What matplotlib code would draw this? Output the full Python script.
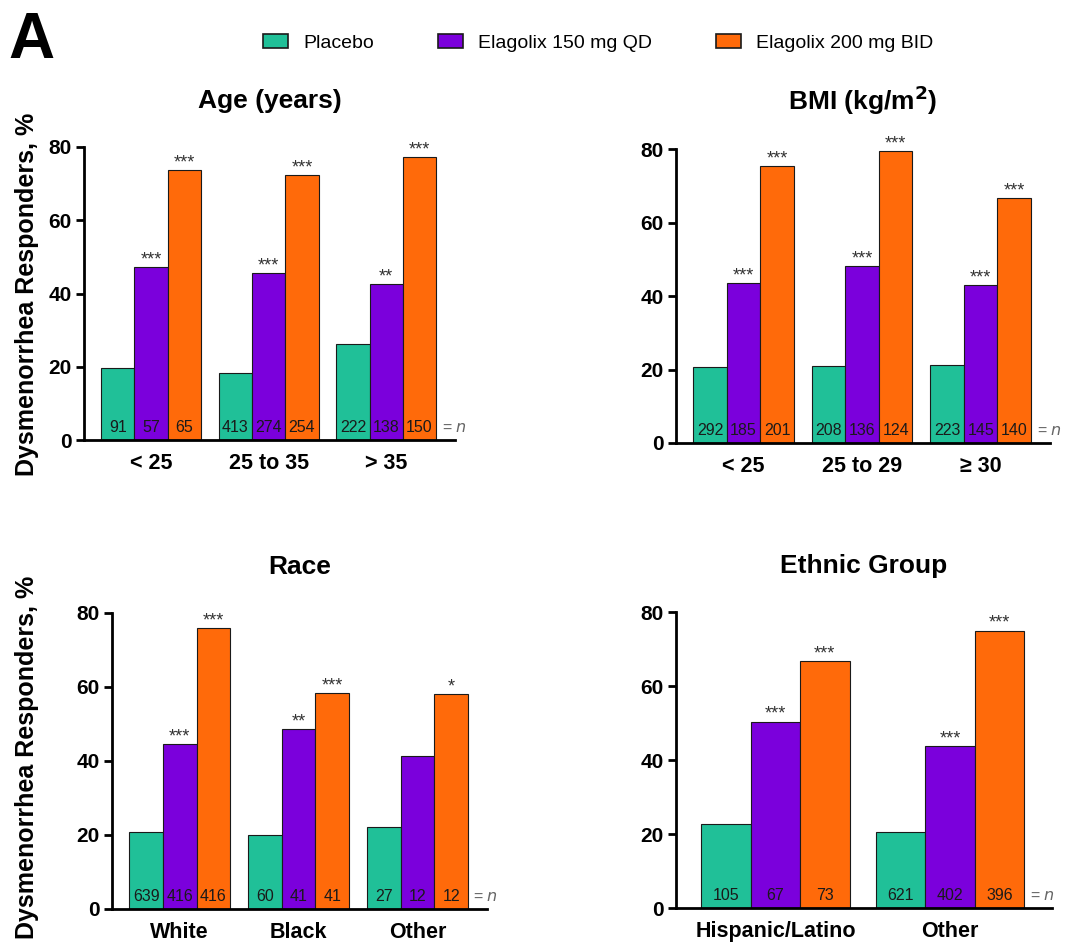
import numpy as np
import matplotlib
matplotlib.use("Agg")
import matplotlib.pyplot as plt
from matplotlib.patches import Patch

plt.rcParams['font.family'] = ['Liberation Sans', 'DejaVu Sans']

# ---- data ----
groups = ['Placebo', 'Elagolix 150 mg QD', 'Elagolix 200 mg BID']
colors = ['#20C098', '#7B00DC', '#FF6A0A']

age_cats = ['< 25', '25 to 35', '> 35']
age_placebo = [19.6, 18.3, 26.2]
age_150 = [47.3, 45.6, 42.6]
age_200 = [73.8, 72.4, 77.3]
age_n = [[91, 413, 222], [57, 274, 138], [65, 254, 150]]
age_sig = [['', '', ''], ['***', '***', '**'], ['***', '***', '***']]

bmi_cats = ['< 25', '25 to 29', '\u2265 30']
bmi_placebo = [20.7, 21.0, 21.2]
bmi_150 = [43.5, 48.2, 43.0]
bmi_200 = [75.4, 79.5, 66.7]
bmi_n = [[292, 208, 223], [185, 136, 145], [201, 124, 140]]
bmi_sig = [['', '', ''], ['***', '***', '***'], ['***', '***', '***']]

race_cats = ['White', 'Black', 'Other']
race_placebo = [20.9, 19.9, 22.1]
race_150 = [44.6, 48.6, 41.3]
race_200 = [76.0, 58.3, 58.0]
race_n = [[639, 60, 27], [416, 41, 12], [416, 41, 12]]
race_sig = [['', '', ''], ['***', '**', ''], ['***', '***', '*']]

eth_cats = ['Hispanic/Latino', 'Other']
eth_placebo = [22.6, 20.5]
eth_150 = [50.4, 43.7]
eth_200 = [66.7, 75.0]
eth_n = [[105, 621], [67, 402], [73, 396]]
eth_sig = [['', ''], ['***', '***'], ['***', '***']]

W = 1075
H = 944


def rect(left, top, right, bottom):
    return [left / W, 1 - bottom / H, (right - left) / W, (bottom - top) / H]


def panel(ax, title, cats, vals, ns, sigs):
    x = np.arange(len(cats))
    w = 0.283
    for i, (v, n, s) in enumerate(zip(vals, ns, sigs)):
        xs = x + (i - 1) * w
        ax.bar(xs, v, width=w, color=colors[i], edgecolor='#1a1a1a',
               linewidth=0.8, zorder=2)
        for xi, vi, ni, si in zip(xs, v, n, s):
            ax.annotate(str(ni), (xi, 0), xytext=(0, 6), textcoords='offset points',
                        ha='center', va='baseline', fontsize=11.5, color='#1a1a1a')
            if si:
                ax.annotate(si, (xi, vi), xytext=(0, -1), textcoords='offset points',
                            ha='center', va='bottom', fontsize=13, color='#333333')
    last = x[-1] + 1.5 * w
    ax.annotate('= $n$', (last, 0), xytext=(4, 6), textcoords='offset points',
                ha='left', va='baseline', fontsize=11.5, color='#666666')

    ax.set_xlim(-0.57, len(cats) - 1 + 0.585)
    ax.set_ylim(0, 80)
    ax.set_yticks([0, 20, 40, 60, 80])
    ax.set_xticks(x)
    ax.set_xticklabels(cats, fontsize=15.5, fontweight='bold')
    for lab in ax.get_yticklabels():
        lab.set_fontsize(15)
        lab.set_fontweight('bold')
    ax.tick_params(axis='x', length=0, pad=9.5)
    ax.tick_params(axis='y', length=6, width=2, direction='out', pad=3)
    for sp in ['top', 'right']:
        ax.spines[sp].set_visible(False)
    for sp in ['left', 'bottom']:
        ax.spines[sp].set_linewidth(2)
    ax.text(0.5, 1 + 39 / (ax.bbox.height), title, transform=ax.transAxes,
            ha='center', va='baseline', fontsize=19, fontweight='bold')


fig = plt.figure(figsize=(W / 100, H / 100), dpi=100)

ax1 = fig.add_axes(rect(84, 147, 455, 440))
ax2 = fig.add_axes(rect(676, 149, 1050, 443))
ax3 = fig.add_axes(rect(112, 613, 487, 909))
ax4 = fig.add_axes(rect(676, 612, 1052, 908))

panel(ax1, 'Age (years)', age_cats, [age_placebo, age_150, age_200], age_n, age_sig)
panel(ax2, 'BMI (kg/m$^\\mathbf{2}$)', bmi_cats, [bmi_placebo, bmi_150, bmi_200], bmi_n, bmi_sig)
panel(ax3, 'Race', race_cats, [race_placebo, race_150, race_200], race_n, race_sig)
panel(ax4, 'Ethnic Group', eth_cats, [eth_placebo, eth_150, eth_200], eth_n, eth_sig)

# y labels (left column only)
fig.text(27 / W, 1 - 294 / H, 'Dysmenorrhea Responders, %', rotation=90,
         ha='center', va='center', fontsize=18, fontweight='bold')
fig.text(27 / W, 1 - 757 / H, 'Dysmenorrhea Responders, %', rotation=90,
         ha='center', va='center', fontsize=18, fontweight='bold')

# panel letter
fig.text(8 / W, 1 - 58 / H, 'A', ha='left', va='baseline', fontsize=46,
         fontweight='bold')

# legend
handles = [Patch(facecolor=c, edgecolor='#1a1a1a', linewidth=1.2) for c in colors]
fig.legend(handles, groups, loc='center', bbox_to_anchor=(598 / W, 1 - 43 / H),
           ncol=3, frameon=False, fontsize=14, handlelength=1.3, handleheight=0.7,
           handletextpad=0.75, columnspacing=3.3)

fig.savefig('out.png', dpi=100)
